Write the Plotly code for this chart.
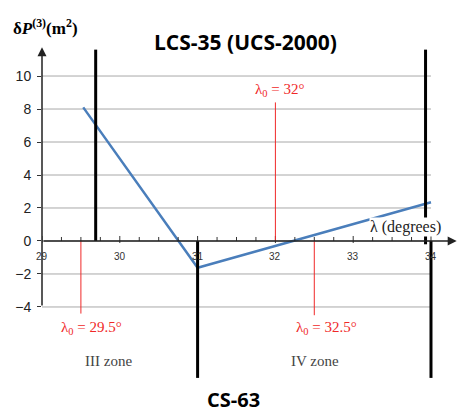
import numpy as np
import plotly.graph_objects as go

# ---- data ----
curve_x = [29.53, 31.0, 34.0]
curve_y = [8.1, -1.62, 2.35]

y_ticks = [-4, -2, 0, 2, 4, 6, 8, 10]
x_ticks = [29, 30, 31, 32, 33, 34]
x_minor = [v for v in np.arange(29.25, 34.0, 0.25) if abs(v - round(v)) > 1e-6]

# LCS-35 zone boundaries (above axis) and CS-63 zone boundaries (below axis)
lcs_bounds = [29.69, 33.93]
lcs_bottom = [0.0, -0.2]
cs_bounds = [31.0, 34.0]

# central meridians
lam0 = [29.5, 32.0, 32.5]
lam0_end = [-4.4, 8.4, -4.5]
lam0_text = ["λ<sub>0</sub> = 29.5°", "λ<sub>0</sub> = 32°", "λ<sub>0</sub> = 32.5°"]
lam0_label_x = [29.63, 32.06, 32.66]
lam0_label_y = [-5.3, 9.15, -5.25]

zone_names = ["III zone", "IV zone"]
zone_x = [29.85, 32.51]
zone_y = [-7.3, -7.3]

X_RANGE = [29, 34.36]
Y_RANGE = [-8.73, 11.82]
Y_TOP = 11.6
X_END = 34.33
CS_BOTTOM = -8.3

RED = "#f02828"
BLUE = "#4a7ebb"
GRID = "#a8a8a8"

fig = go.Figure()
fig.add_trace(go.Scatter(x=curve_x, y=curve_y, mode="lines",
                         line=dict(color=BLUE, width=2.5), hoverinfo="skip",
                         showlegend=False))

shapes = []
# grid lines
for yv in y_ticks:
    shapes.append(dict(type="line", xref="x", yref="y", x0=29, x1=34, y0=yv, y1=yv,
                       line=dict(color=GRID, width=1), layer="below"))
# x-axis ticks (pointing upward, pixel sized)
for xv in x_ticks:
    shapes.append(dict(type="line", xref="x", yref="y", ysizemode="pixel", yanchor=0,
                       x0=xv, x1=xv, y0=-2, y1=5, line=dict(color="#333", width=1)))
for xv in x_minor:
    shapes.append(dict(type="line", xref="x", yref="y", ysizemode="pixel", yanchor=0,
                       x0=xv, x1=xv, y0=0, y1=4, line=dict(color="#333", width=1)))
# red meridian lines
for xv, ye in zip(lam0, lam0_end):
    shapes.append(dict(type="line", xref="x", yref="y", x0=xv, x1=xv, y0=0, y1=ye,
                       line=dict(color=RED, width=1)))
# zone boundary lines
for xv, yb in zip(lcs_bounds, lcs_bottom):
    shapes.append(dict(type="line", xref="x", yref="y", x0=xv, x1=xv, y0=yb, y1=Y_TOP,
                       line=dict(color="black", width=3)))
for xv in cs_bounds:
    shapes.append(dict(type="line", xref="x", yref="y", x0=xv, x1=xv, y0=0, y1=CS_BOTTOM,
                       line=dict(color="black", width=3)))

annotations = []
# axis arrows
annotations.append(dict(x=29, y=Y_TOP + 0.15, ax=29, ay=-4, xref="x", yref="y",
                        axref="x", ayref="y", text="", showarrow=True, arrowhead=2,
                        arrowsize=1.2, arrowwidth=1.5, arrowcolor="#222"))
annotations.append(dict(x=X_END, y=0, ax=29, ay=0, xref="x", yref="y",
                        axref="x", ayref="y", text="", showarrow=True, arrowhead=2,
                        arrowsize=1.2, arrowwidth=1.5, arrowcolor="#222"))
# x tick labels
for xv in x_ticks:
    annotations.append(dict(x=xv, y=0, xref="x", yref="y", text=str(xv), showarrow=False,
                            yshift=-16, font=dict(family="Liberation Sans", size=10, color="#333")))
# lambda labels
for xv, yv, t in zip(lam0_label_x, lam0_label_y, lam0_text):
    annotations.append(dict(x=xv, y=yv, xref="x", yref="y", text=t, showarrow=False,
                            font=dict(family="Liberation Serif", size=15, color=RED)))
# zone names
for xv, yv, t in zip(zone_x, zone_y, zone_names):
    annotations.append(dict(x=xv, y=yv, xref="x", yref="y", text=t, showarrow=False,
                            font=dict(family="Liberation Serif", size=15, color="#444")))
# axis label for x
annotations.append(dict(x=33.67, y=0.85, xref="x", yref="y", text="λ (degrees)",
                        showarrow=False, bgcolor="white", borderpad=0,
                        font=dict(family="Liberation Serif", size=16, color="#222")))
# titles
annotations.append(dict(x=245, y=412 - 42, xref="paper", yref="paper", text="<b>LCS-35 (UCS-2000)</b>",
                        showarrow=False, font=dict(family="Open Sans", size=21, color="black")))
annotations.append(dict(x=233, y=412 - 399, xref="paper", yref="paper", text="<b>CS-63</b>",
                        showarrow=False, font=dict(family="Open Sans", size=20, color="black")))
annotations.append(dict(x=45, y=412 - 27, xref="paper", yref="paper",
                        text="<b>δ<i>P</i><sup>(3)</sup>(m<sup>2</sup>)</b>",
                        showarrow=False, font=dict(family="Liberation Serif", size=17, color="black")))

# convert pixel-based paper annotations to paper fractions
L, R, T, B = 42, 0, 46, 27
W, H = 459, 412
pw, ph = W - L - R, H - T - B
for a in annotations:
    a["xanchor"] = "center"
    a["yanchor"] = "middle"
    if a.get("xref") == "paper":
        a["x"] = (a["x"] - L) / pw
        a["y"] = (a["y"] - B) / ph

fig.update_layout(
    width=W, height=H,
    margin=dict(l=L, r=R, t=T, b=B, pad=0, autoexpand=False),
    paper_bgcolor="white", plot_bgcolor="white",
    xaxis=dict(range=X_RANGE, visible=False, fixedrange=True, automargin=False),
    yaxis=dict(range=Y_RANGE, tickvals=y_ticks, ticktext=[("−" if v < 0 else "") + str(abs(v)) for v in y_ticks],
               showgrid=False, zeroline=False, showline=False, automargin=False,
               ticks="outside", ticklen=4, tickcolor="#333", ticklabelstandoff=3,
               tickfont=dict(family="Liberation Sans", size=14, color="#222"), fixedrange=True),
    shapes=shapes, annotations=annotations, showlegend=False,
)

fig.write_html("out.html", config={"displayModeBar": False},
               post_script="document.body.style.margin='0px';document.body.style.overflow='hidden';")
